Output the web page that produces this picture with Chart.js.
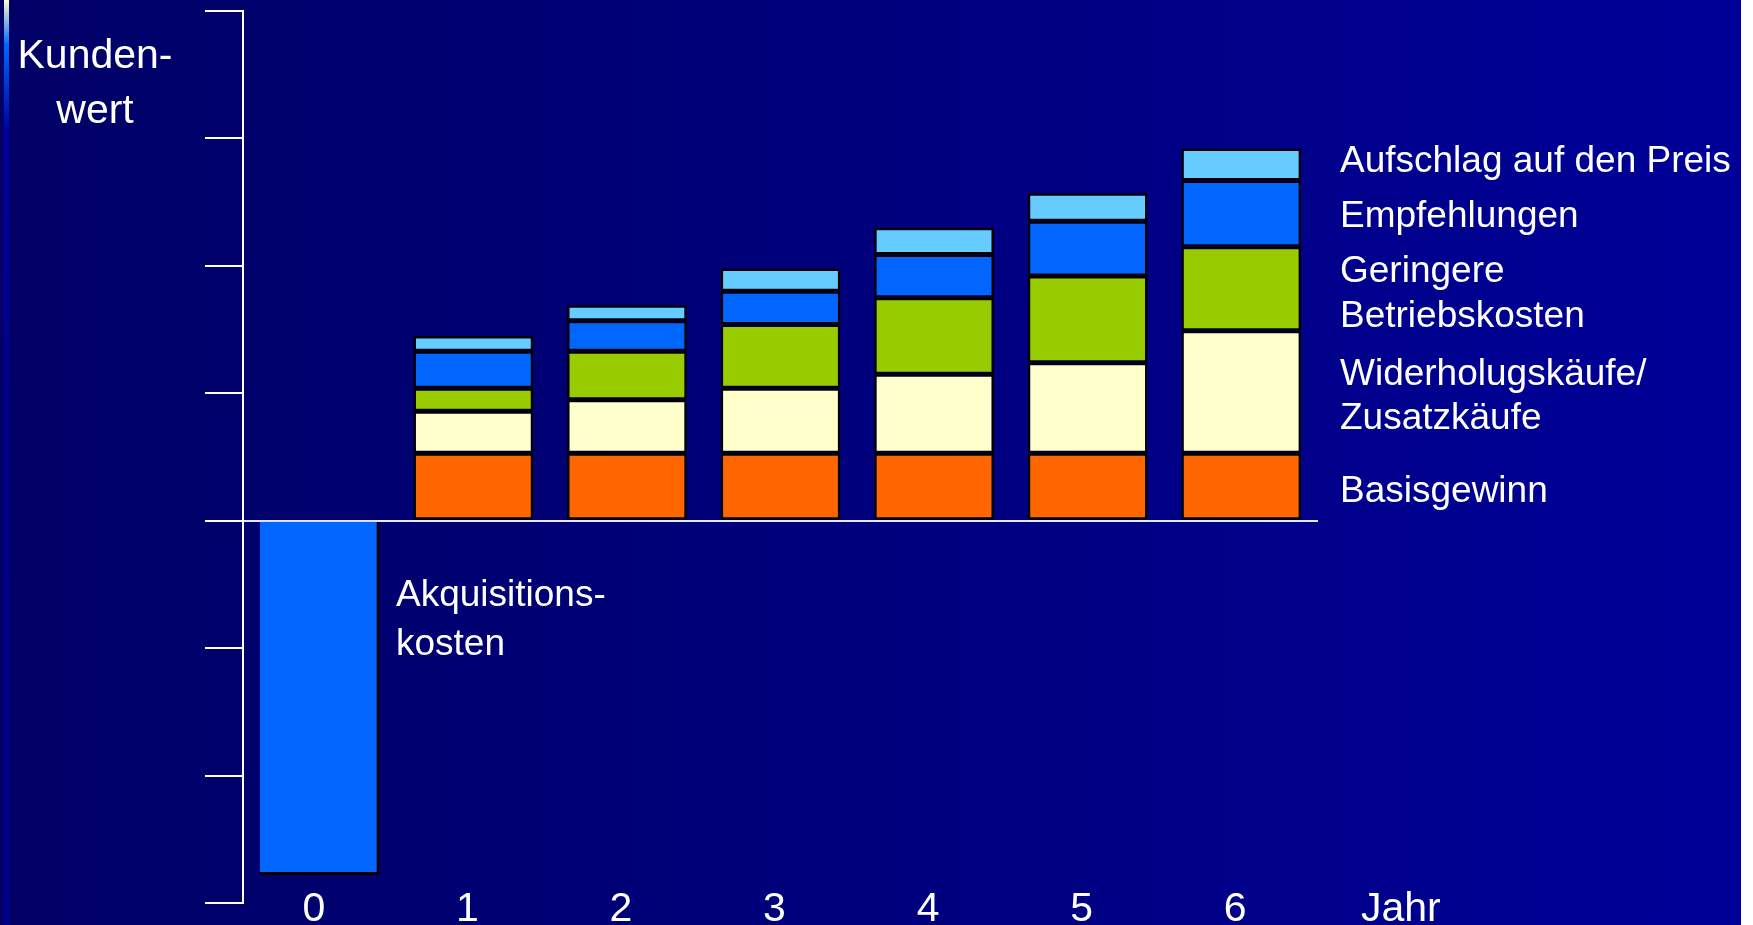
<!DOCTYPE html>
<html>
<head>
<meta charset="utf-8">
<script src="https://cdn.jsdelivr.net/npm/chart.js@4/dist/chart.umd.min.js"></script>
<style>
  html, body { margin: 0; padding: 0; background: #ffffff; overflow: hidden; }
  #slide { position: absolute; left: 0; top: 0; width: 1741px; height: 925px;
    background: linear-gradient(to right, #000066 0%, #00007a 45%, #000098 100%); }
  #strip { position: absolute; left: 4px; top: 0; width: 5px; height: 925px;
    background: linear-gradient(to bottom, #ffffcc 0px, #0066ff 45px, #0000a0 130px, #00008c 400px, #000090 925px); }
  #wrap { position: absolute; left: 0; top: 0; width: 1741px; height: 925px; }
</style>
</head>
<body>
<div id="slide"><div id="strip"></div></div>
<div id="wrap"><canvas id="c" width="1741" height="925"></canvas></div>
<script>
// ---- data ----
const years = ['0', '1', '2', '3', '4', '5', '6'];
const akquisitionskosten = [-2.78, null, null, null, null, null, null];
const basisgewinn      = [null, 0.53, 0.53, 0.53, 0.53, 0.53, 0.53];
const wiederholung     = [null, 0.33, 0.42, 0.51, 0.62, 0.71, 0.96];
const betriebskosten   = [null, 0.18, 0.38, 0.50, 0.60, 0.68, 0.66];
const empfehlungen     = [null, 0.29, 0.24, 0.26, 0.34, 0.43, 0.52];
const aufschlag        = [null, 0.12, 0.12, 0.18, 0.21, 0.22, 0.25];
const yTicks = [-3, -2, -1, 0, 1, 2, 3, 4];

const FONT = '"Liberation Sans", Arial, sans-serif';

function seg(label, data, color) {
  return { label, data, backgroundColor: color, borderColor: '#000000',
    borderWidth: 2.5, borderSkipped: false, barPercentage: 0.78, categoryPercentage: 1.0 };
}

const labelsPlugin = {
  id: 'slideText',
  afterDraw(chart) {
    const ctx = chart.ctx;
    ctx.save();
    ctx.fillStyle = '#ffffff';
    ctx.textBaseline = 'alphabetic';
    ctx.font = '41px ' + FONT;
    ctx.textAlign = 'center';
    ctx.fillText('Kunden-', 95, 68);
    ctx.fillText('wert', 95, 123);
    ctx.textAlign = 'left';
    ctx.fillText('Jahr', 1361, 921);
    ctx.font = '37px ' + FONT;
    const right = [
      ['Aufschlag auf den Preis', 172],
      ['Empfehlungen', 227],
      ['Geringere', 282],
      ['Betriebskosten', 327],
      ['Widerholugskäufe/', 385],
      ['Zusatzkäufe', 429],
      ['Basisgewinn', 502]
    ];
    right.forEach(([t, y]) => ctx.fillText(t, 1340, y));
    ctx.fillText('Akquisitions-', 396, 606);
    ctx.fillText('kosten', 396, 655);
    ctx.restore();
  }
};

new Chart(document.getElementById('c'), {
  type: 'bar',
  data: {
    labels: years,
    datasets: [
      { label: 'Akquisitionskosten', data: akquisitionskosten, backgroundColor: '#0066ff',
        borderColor: '#000000', borderWidth: { top: 0, left: 0, right: 3, bottom: 3 },
        borderSkipped: false, barPercentage: 0.78, categoryPercentage: 1.0 },
      seg('Basisgewinn', basisgewinn, '#ff6600'),
      seg('Widerholugskäufe/Zusatzkäufe', wiederholung, '#ffffcc'),
      seg('Geringere Betriebskosten', betriebskosten, '#99cc00'),
      seg('Empfehlungen', empfehlungen, '#0066ff'),
      seg('Aufschlag auf den Preis', aufschlag, '#66ccff')
    ]
  },
  options: {
    responsive: false,
    animation: false,
    layout: { padding: { left: 205, right: 423, top: 11, bottom: 22 } },
    plugins: { legend: { display: false }, tooltip: { enabled: false } },
    scales: {
      x: {
        stacked: true,
        position: { y: -2.89 },
        grid: { display: false, drawTicks: false },
        border: { display: false },
        ticks: { color: '#ffffff', font: { family: FONT, size: 41, lineHeight: 1 }, padding: 0,
          labelOffset: -6, maxRotation: 0, autoSkip: false }
      },
      y: {
        stacked: true,
        min: -3, max: 4,
        afterBuildTicks(scale) { scale.ticks = yTicks.map(v => ({ value: v })); },
        ticks: { display: false },
        grid: {
          drawOnChartArea: true,
          drawTicks: true,
          tickLength: 38,
          lineWidth: 2,
          tickWidth: 2,
          tickColor: '#ffffff',
          color: (c) => (c.tick && c.tick.value === 0) ? '#e6e6f5' : 'rgba(0,0,0,0)'
        },
        border: { display: true, color: '#ffffff', width: 2 }
      }
    }
  },
  plugins: [labelsPlugin]
});
</script>
</body>
</html>
